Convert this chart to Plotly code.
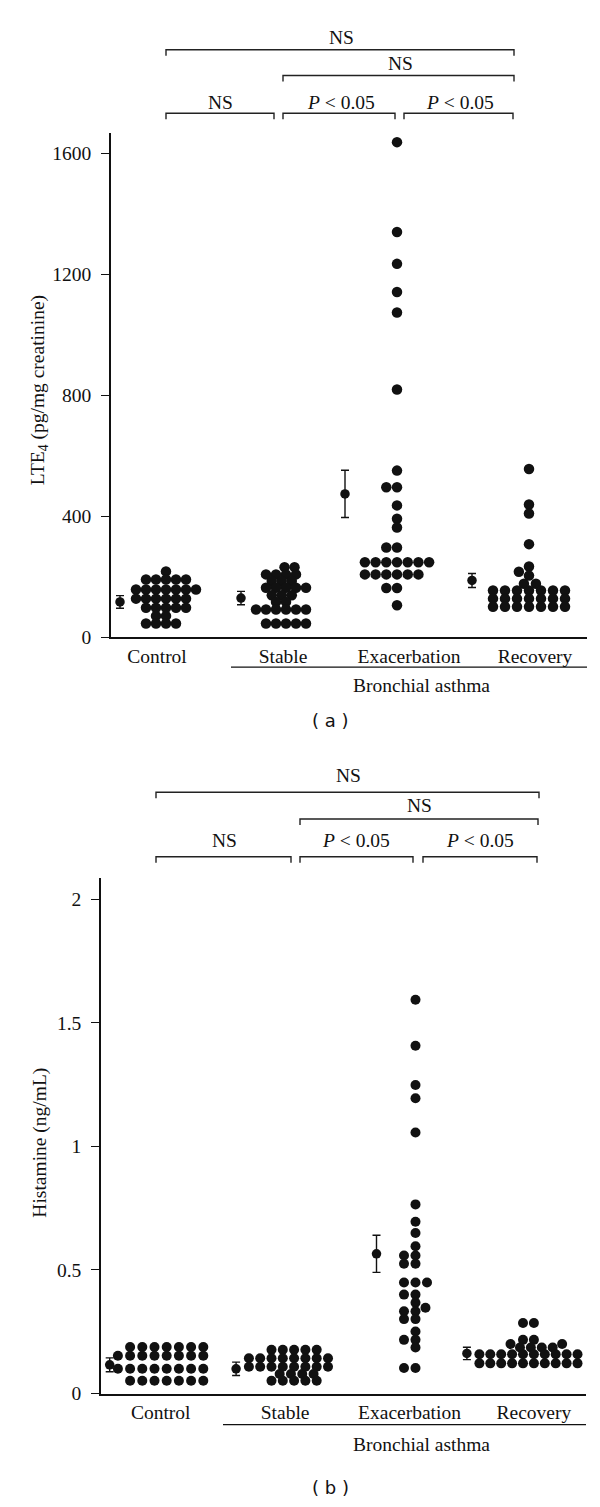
import numpy as np
import plotly.graph_objects as go

W, H = 600, 1507
categories = ["Control", "Stable", "Exacerbation", "Recovery"]

# ---------------- Panel (a): LTE4 (pg/mg creatinine) ----------------
lte4_control = [218] + [191]*5 + [158]*7 + [128]*6 + [98]*5 + [71]*2 + [46]*4
lte4_stable = [232]*2 + [208]*4 + [186]*3 + [164]*5 + [139]*3 + [117]*2 + [92]*6 + [46]*5
lte4_exacerbation = [1636, 1339, 1234, 1141, 1073, 819, 551, 496, 496, 436, 392, 363,
                     297, 297] + [248]*7 + [208]*6 + [163, 163, 106]
lte4_recovery = [556, 439, 409, 308, 234, 217, 204, 177, 177] + [155]*7 + [128]*7 + [101]*7
lte4_mean = [117, 130, 474, 188]
lte4_err = [21, 22, 78, 23]
lte4_ticks = [0, 400, 800, 1200, 1600]

# ---------------- Panel (b): Histamine (ng/mL) ----------------
hist_control = [0.188]*7 + [0.153]*8 + [0.100]*8 + [0.052]*7
hist_stable = [0.177]*5 + [0.143]*8 + [0.108]*8 + [0.079]*4 + [0.052]*5
hist_exacerbation = [1.593, 1.407, 1.248, 1.194, 1.056, 0.765, 0.695, 0.649, 0.596,
                     0.558, 0.558, 0.525, 0.525, 0.449, 0.449, 0.449, 0.400, 0.400,
                     0.367, 0.347, 0.333, 0.333, 0.301, 0.301, 0.251, 0.217, 0.217,
                     0.186, 0.103, 0.103]
hist_recovery = [0.285]*2 + [0.217]*2 + [0.200]*2 + [0.186]*4 + [0.159]*10 + [0.122]*10
hist_mean = [0.116, 0.100, 0.565, 0.162]
hist_err = [0.028, 0.027, 0.075, 0.025]
hist_ticks = [0, 0.5, 1, 1.5, 2]
hist_ticktext = ["0", "0.5", "1", "1.5", "2"]

SERIF = "Liberation Serif"
SANS = "DejaVu Sans"
INK = "#111111"
FS = 19.5


def px_x(p):
    return p / W


def px_y(p):
    return 1 - p / H


def swarm(values, px_per_unit, dw, dh):
    """Beeswarm offsets (in pixels) using elliptical collision."""
    order = sorted(range(len(values)), key=lambda i: values[i])
    placed = []
    offs = [0.0] * len(values)
    for i in order:
        y = values[i] * px_per_unit
        ivs = []
        for (px, py) in placed:
            d = (y - py) / dh
            if abs(d) < 1:
                half = dw * np.sqrt(1 - d * d)
                ivs.append((px - half, px + half))
        cands = [0.0] + [a for iv in ivs for a in iv]
        cands.sort(key=lambda c: (round(abs(c), 6), c))
        for c in cands:
            if all(not (a + 1e-6 < c < b - 1e-6) for a, b in ivs):
                offs[i] = c
                placed.append((c, y))
                break
    return offs


panels = [
    dict(groups=[lte4_control, lte4_stable, lte4_exacerbation, lte4_recovery],
         mean=lte4_mean, err=lte4_err, ticks=lte4_ticks, ticktext=[str(t) for t in lte4_ticks],
         xpx=(103, 579), ypx=(126, 634), yrange=(0, 1666), label_px=(149, 126),
         cluster_shift=[9, 3, -12, -6], mean_shift=[-37, -42, -64, -63],
         dw=[10, 10, 10.7, 12], dh=7.4, msize=10.5,
         ytitle="LTE<sub>4</sub> (pg/mg creatinine)", ytitle_pos=(31, 385),
         underline=(223, 579, 664), asthma=(413, 682), tag=("( a )", 322, 718),
         brackets=[(158, 506, 42, "NS", 333, 30), (275, 506, 68, "NS", 392, 56),
                   (158, 266, 106, "NS", 212, 95), (275, 387, 106, "<i>P</i> &lt; 0.05", 333, 95),
                   (396, 505, 106, "<i>P</i> &lt; 0.05", 452, 95)]),
    dict(groups=[hist_control, hist_stable, hist_exacerbation, hist_recovery],
         mean=hist_mean, err=hist_err, ticks=hist_ticks, ticktext=hist_ticktext,
         xpx=(93, 578), ypx=(876.7, 1395.7), yrange=(0, 2.084), label_px=(152.7, 124.4),
         cluster_shift=[6, 9, 6, 0], mean_shift=[-51, -49, -33, -67],
         dw=[12.2, 11.3, 11.5, 10.9], dh=7.0, msize=10,
         ytitle="Histamine (ng/mL)", ytitle_pos=(32, 1143),
         underline=(215, 578, 1427), asthma=(414, 1447), tag=("( b )", 322, 1490),
         brackets=[(148, 531, 790, "NS", 340, 773), (292, 530, 817, "NS", 411, 803),
                   (148, 283, 855, "NS", 216, 839), (292, 405, 855, "<i>P</i> &lt; 0.05", 348, 839),
                   (415, 529, 855, "<i>P</i> &lt; 0.05", 472, 839)]),
]

fig = go.Figure()
shapes, annotations = [], []


def note(text, xp, yp, font, angle=0):
    annotations.append(dict(text=text, x=px_x(xp), y=px_y(yp), xref="paper", yref="paper",
                            xanchor="center", yanchor="middle", showarrow=False,
                            textangle=angle, font=font))


serif_font = dict(family=SERIF, size=FS, color=INK)

for k, p in enumerate(panels):
    xa = "x" if k == 0 else "x2"
    ya = "y" if k == 0 else "y2"
    lab0, unit_px = p["label_px"]
    x0u = 1 + (p["xpx"][0] - lab0) / unit_px
    x1u = 1 + (p["xpx"][1] - lab0) / unit_px
    px_per_val = (p["ypx"][1] - p["ypx"][0]) / (p["yrange"][1] - p["yrange"][0])

    for g, vals in enumerate(p["groups"]):
        offs = swarm(vals, px_per_val, p["dw"][g], p["dh"])
        center = (g + 1) + p["cluster_shift"][g] / unit_px
        xs = [center + o / unit_px for o in offs]
        fig.add_trace(go.Scatter(
            x=xs, y=vals, mode="markers", xaxis=xa, yaxis=ya, showlegend=False,
            marker=dict(symbol="circle", size=p["msize"], color=INK, line=dict(width=0)),
            hoverinfo="skip"))

    mx = [(g + 1) + p["mean_shift"][g] / unit_px for g in range(4)]
    fig.add_trace(go.Scatter(
        x=mx, y=p["mean"], mode="markers", xaxis=xa, yaxis=ya, showlegend=False,
        marker=dict(symbol="circle", size=9.5, color=INK),
        error_y=dict(type="data", array=p["err"], visible=True, color=INK,
                     thickness=1.4, width=4),
        hoverinfo="skip"))

    xdom = [p["xpx"][0] / W, p["xpx"][1] / W]
    ydom = [px_y(p["ypx"][1]), px_y(p["ypx"][0])]
    axis_x = dict(domain=xdom, range=[x0u, x1u], anchor=ya, showgrid=False, zeroline=False,
                  showline=True, linecolor=INK, linewidth=1.5, ticks="",
                  tickvals=[1, 2, 3, 4], ticktext=categories,
                  tickfont=serif_font, fixedrange=True)
    axis_y = dict(domain=ydom, range=list(p["yrange"]), anchor=xa, showgrid=False,
                  zeroline=False, showline=True, linecolor=INK, linewidth=1.5,
                  ticks="outside", ticklen=8, tickwidth=1.3, tickcolor=INK,
                  ticklabelstandoff=6,
                  tickvals=p["ticks"], ticktext=p["ticktext"],
                  tickfont=serif_font, fixedrange=True)
    if k == 0:
        fig.update_layout(xaxis=axis_x, yaxis=axis_y)
    else:
        fig.update_layout(xaxis2=axis_x, yaxis2=axis_y)

    tx, ty = p["ytitle_pos"]
    note(p["ytitle"], tx, ty, serif_font, angle=-90)

    ux0, ux1, uy = p["underline"]
    shapes.append(dict(type="line", xref="paper", yref="paper", x0=px_x(ux0), x1=px_x(ux1),
                       y0=px_y(uy), y1=px_y(uy), line=dict(color=INK, width=1.4)))
    ax_, ay_ = p["asthma"]
    note("Bronchial asthma", ax_, ay_, serif_font)
    tt, ttx, tty = p["tag"]
    note(tt, ttx, tty, dict(family=SANS, size=18, color=INK))

    for (bx0, bx1, by, txt, lx, ly) in p["brackets"]:
        path = "M {a},{b} L {a},{c} L {d},{c} L {d},{b}".format(
            a=px_x(bx0), b=px_y(by + 6), c=px_y(by), d=px_x(bx1))
        shapes.append(dict(type="path", xref="paper", yref="paper", path=path,
                           line=dict(color="#222222", width=1.4)))
        note(txt, lx, ly, serif_font)

fig.update_layout(width=W, height=H, autosize=False, margin=dict(l=0, r=0, t=0, b=0),
                  paper_bgcolor="white", plot_bgcolor="white",
                  shapes=shapes, annotations=annotations)

fig.write_html("out.html")
